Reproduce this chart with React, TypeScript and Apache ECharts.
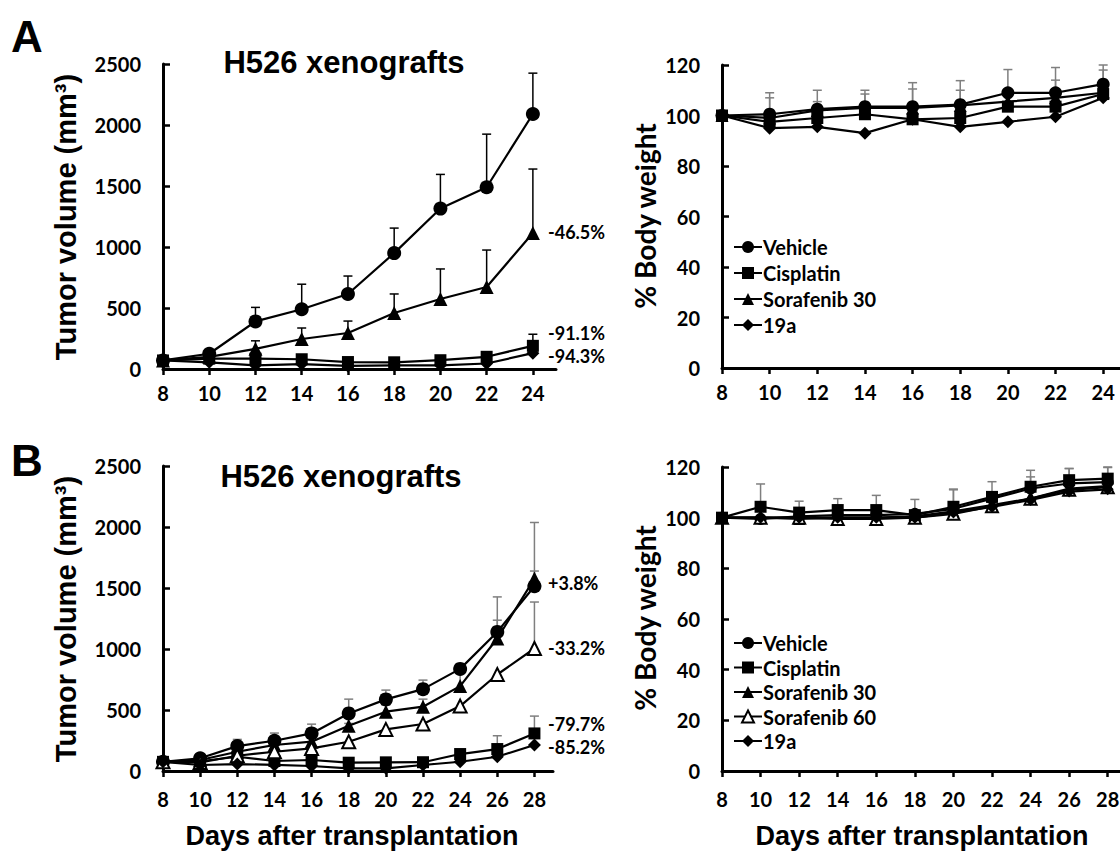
import React, { useEffect, useRef } from 'react';
import * as echarts from 'echarts';

// ---------- data ----------
const daysA = [8, 10, 12, 14, 16, 18, 20, 22, 24];
const daysB = [8, 10, 12, 14, 16, 18, 20, 22, 24, 26, 28];

// Panel A – tumour volume (mm3)
const tvAVehicle = [70, 125, 390, 490, 615, 950, 1315, 1490, 2090];
const tvAVehicleErr = [0, 0, 115, 205, 147, 205, 280, 435, 335];
const tvACisplatin = [70, 85, 85, 80, 57, 55, 72, 100, 190];
const tvACisplatinErr = [0, 0, 0, 0, 0, 0, 0, 0, 95];
const tvASor30 = [70, 100, 165, 246, 295, 459, 574, 672, 1115];
const tvASor30Err = [0, 0, 66, 90, 98, 156, 246, 303, 524];
const tvA19a = [70, 55, 30, 40, 25, 30, 30, 45, 130];

// Panel A – % body weight
const bwAVehicle = [100, 100.5, 102.5, 103.5, 103.5, 104.3, 109, 109, 112.4];
const bwAVehicleErr = [0, 8.5, 7.5, 6.5, 9.5, 9.5, 9.2, 10, 7.6];
const bwACisplatin = [100, 97.5, 99, 100.5, 98.5, 99, 103.5, 103.5, 108.5];
const bwASor30 = [100, 99, 102, 103, 103, 104, 105.5, 107, 109];
const bwASor30Err = [0, 8, 3.5, 5.5, 7.5, 6, 3, 7, 9];
const bwA19a = [100, 95, 95.5, 93, 98.5, 95.5, 97.5, 99.5, 107];

// Panel B – tumour volume (mm3)
const tvBVehicle = [75, 104, 204, 248, 308, 472, 587, 671, 837, 1140, 1514];
const tvBVehicleErr = [0, 0, 55, 63, 76, 117, 76, 74, 22, 96, 125];
const tvBCisplatin = [75, 80, 117, 82, 90, 68, 71, 72, 139, 180, 308];
const tvBCisplatinErr = [0, 0, 0, 0, 0, 0, 0, 0, 0, 109, 142];
const tvBSor30 = [75, 90, 158, 213, 240, 371, 486, 527, 696, 1086, 1577];
const tvBSor30Err = [0, 0, 0, 0, 0, 19, 54, 62, 150, 341, 460];
const tvBSor60 = [75, 70, 125, 158, 185, 240, 341, 385, 532, 791, 1004];
const tvBSor60Err = [0, 0, 0, 0, 0, 0, 0, 0, 0, 0, 381];
const tvB19a = [75, 49, 57, 50, 41, 22, 22, 49, 76, 117, 213];

// Panel B – % body weight
const bwBVehicle = [100, 99.5, 100.5, 101, 101, 101.5, 103.5, 107.5, 111.5, 113.5, 114];
const bwBVehicleErr = [0, 0, 0, 4, 0, 5.7, 7.5, 0, 4.6, 5.9, 5.8];
const bwBCisplatin = [100, 104.3, 102, 103, 103, 101, 104.3, 108.2, 112.2, 114.8, 115.4];
const bwBCisplatinErr = [0, 9, 4.5, 4.5, 5.8, 0, 7, 6, 6.5, 4.6, 4.6];
const bwBSor30 = [100, 100, 99.5, 100, 100, 100.5, 102.5, 105, 107.5, 111.5, 112.5];
const bwBSor60 = [100, 100, 100, 99.5, 99.5, 100, 101.5, 104.5, 107.5, 111, 112];
const bwB19a = [100, 100, 100, 100, 100, 100, 102, 104.2, 107, 110.3, 111.2];

const legendA = ['Vehicle', 'Cisplatin', 'Sorafenib 30', '19a'];
const legendB = ['Vehicle', 'Cisplatin', 'Sorafenib 30', 'Sorafenib 60', '19a'];

const annotA = [
  { text: '-46.5%', y: 232 },
  { text: '-91.1%', y: 333 },
  { text: '-94.3%', y: 356 },
];
const annotB = [
  { text: '+3.8%', y: 583 },
  { text: '-33.2%', y: 648 },
  { text: '-79.7%', y: 724 },
  { text: '-85.2%', y: 747 },
];

// ---------- helpers ----------
const ARIAL = '"Liberation Sans", Arial, sans-serif';
const CAL = 'Lato, "Open Sans", sans-serif';

function line(name: string, days: number[], vals: number[], gi: number, symbol: string, size: number) {
  return {
    type: 'line',
    name,
    xAxisIndex: gi,
    yAxisIndex: gi,
    data: days.map((d, i) => [d, vals[i]]),
    symbol,
    symbolSize: size,
    showAllSymbol: true,
    lineStyle: { color: '#000', width: 2.2 },
    itemStyle: { color: '#000', borderColor: '#000', borderWidth: symbol.startsWith('empty') ? 1.5 : 0 },
    z: 3,
    silent: true,
  };
}

function errs(days: number[], vals: number[], e: number[], gi: number, color: string) {
  return {
    type: 'custom',
    xAxisIndex: gi,
    yAxisIndex: gi,
    silent: true,
    clip: false,
    z: 2,
    encode: { x: 0, y: 1 },
    data: days.map((d, i) => [d, vals[i], e[i]]).filter((r) => r[2] > 0),
    renderItem: (params: any, api: any) => {
      const x = api.value(0);
      const y = api.value(1);
      const ev = api.value(2);
      const p0 = api.coord([x, y]);
      const p1 = api.coord([x, y + ev]);
      return {
        type: 'group',
        children: [
          { type: 'line', shape: { x1: p0[0], y1: p0[1], x2: p1[0], y2: p1[1] }, style: { stroke: color, lineWidth: 1.5 } },
          { type: 'line', shape: { x1: p1[0] - 4.5, y1: p1[1], x2: p1[0] + 4.5, y2: p1[1] }, style: { stroke: color, lineWidth: 1.5 } },
        ],
      };
    },
  };
}

function xAxis(gi: number, max: number, ticks: number[], margin: number) {
  return {
    type: 'value',
    gridIndex: gi,
    min: 8,
    max,
    interval: 2,
    axisLine: { show: true, onZero: false, lineStyle: { color: '#000', width: 3 } },
    axisTick: { show: true, inside: false, length: 6, customValues: ticks, lineStyle: { color: '#000', width: 2.5 } },
    axisLabel: {
      customValues: ticks,
      margin,
      color: '#000',
      fontFamily: CAL,
      fontWeight: 'bold',
      fontSize: 20,
      formatter: (v: number) => (ticks.indexOf(v) >= 0 ? String(v) : ''),
    },
    splitLine: { show: false },
  };
}

function yAxis(gi: number, max: number, interval: number) {
  return {
    type: 'value',
    gridIndex: gi,
    min: 0,
    max,
    interval,
    axisLine: { show: true, onZero: false, lineStyle: { color: '#000', width: 3 } },
    axisTick: { show: true, inside: true, length: 7, lineStyle: { color: '#000', width: 2.5 } },
    axisLabel: {
      margin: 22,
      color: '#000',
      fontFamily: CAL,
      fontWeight: 'bold',
      fontSize: 20,
      formatter: (v: number) => String(v),
    },
    splitLine: { show: false },
  };
}

function txt(text: string, x: number, y: number, font: string, align = 'center', rotation = 0) {
  return {
    type: 'text',
    x,
    y,
    rotation,
    silent: true,
    style: { text, font, fill: '#000', align, verticalAlign: 'middle' },
  };
}

function legend(data: string[], top: number, gap: number) {
  return {
    data,
    orient: 'vertical',
    left: 733,
    top,
    padding: 0,
    itemWidth: 28,
    itemHeight: 15,
    itemGap: gap,
    selectedMode: false,
    textStyle: { color: '#000', fontFamily: CAL, fontWeight: 'bold', fontSize: 20, lineHeight: 20, padding: [0, 0, 0, -4] },
  };
}

const option: any = {
  animation: false,
  backgroundColor: '#fff',
  grid: [
    { left: 163, top: 64, width: 393, height: 305, outerBoundsMode: 'none' },
    { left: 722, top: 65, width: 405, height: 303, outerBoundsMode: 'none' },
    { left: 163, top: 466, width: 390, height: 305, outerBoundsMode: 'none' },
    { left: 722, top: 467, width: 405, height: 304, outerBoundsMode: 'none' },
  ],
  xAxis: [xAxis(0, 25, daysA, 14), xAxis(1, 25, daysA, 14), xAxis(2, 29, daysB, 18), xAxis(3, 29, daysB, 18)],
  yAxis: [yAxis(0, 2500, 500), yAxis(1, 120, 20), yAxis(2, 2500, 500), yAxis(3, 120, 20)],
  legend: [legend(legendA, 237, 6), legend(legendB, 633, 4.5)],
  series: [
    // A tumour
    errs(daysA, tvAVehicle, tvAVehicleErr, 0, '#000'),
    errs(daysA, tvACisplatin, tvACisplatinErr, 0, '#000'),
    errs(daysA, tvASor30, tvASor30Err, 0, '#000'),
    line('Vehicle', daysA, tvAVehicle, 0, 'circle', 14),
    line('Cisplatin', daysA, tvACisplatin, 0, 'rect', 12),
    line('Sorafenib 30', daysA, tvASor30, 0, 'triangle', 14),
    line('19a', daysA, tvA19a, 0, 'diamond', 13),
    // A body weight
    errs(daysA, bwAVehicle, bwAVehicleErr, 1, '#7f7f7f'),
    errs(daysA, bwASor30, bwASor30Err, 1, '#7f7f7f'),
    line('Vehicle', daysA, bwAVehicle, 1, 'circle', 13),
    line('Cisplatin', daysA, bwACisplatin, 1, 'rect', 12),
    line('Sorafenib 30', daysA, bwASor30, 1, 'triangle', 13),
    line('19a', daysA, bwA19a, 1, 'diamond', 13),
    // B tumour
    errs(daysB, tvBVehicle, tvBVehicleErr, 2, '#7f7f7f'),
    errs(daysB, tvBCisplatin, tvBCisplatinErr, 2, '#7f7f7f'),
    errs(daysB, tvBSor30, tvBSor30Err, 2, '#7f7f7f'),
    errs(daysB, tvBSor60, tvBSor60Err, 2, '#7f7f7f'),
    line('Vehicle', daysB, tvBVehicle, 2, 'circle', 14),
    line('Cisplatin', daysB, tvBCisplatin, 2, 'rect', 12),
    line('Sorafenib 30', daysB, tvBSor30, 2, 'triangle', 14),
    line('Sorafenib 60', daysB, tvBSor60, 2, 'emptyTriangle', 13),
    line('19a', daysB, tvB19a, 2, 'diamond', 13),
    // B body weight
    errs(daysB, bwBVehicle, bwBVehicleErr, 3, '#7f7f7f'),
    errs(daysB, bwBCisplatin, bwBCisplatinErr, 3, '#7f7f7f'),
    line('Vehicle', daysB, bwBVehicle, 3, 'circle', 12),
    line('Sorafenib 30', daysB, bwBSor30, 3, 'triangle', 12),
    line('Sorafenib 60', daysB, bwBSor60, 3, 'emptyTriangle', 12),
    line('19a', daysB, bwB19a, 3, 'diamond', 12),
    line('Cisplatin', daysB, bwBCisplatin, 3, 'rect', 12),
  ],
  graphic: [
    txt('A', 27, 36, `bold 44px ${ARIAL}`),
    txt('B', 27, 460, `bold 44px ${ARIAL}`),
    txt('H526 xenografts', 344, 62, `bold 31px ${ARIAL}`),
    txt('H526 xenografts', 341, 476, `bold 31px ${ARIAL}`),
    txt('Tumor volume (mm³)', 66, 217, `bold 29px ${ARIAL}`, 'center', Math.PI / 2),
    txt('Tumor volume (mm³)', 66, 619, `bold 29px ${ARIAL}`, 'center', Math.PI / 2),
    txt('% Body weight', 645, 216, `bold 28px ${CAL}`, 'center', Math.PI / 2),
    txt('% Body weight', 645, 618, `bold 28px ${CAL}`, 'center', Math.PI / 2),
    txt('Days after transplantation', 352, 836, `bold 27px ${ARIAL}`),
    txt('Days after transplantation', 922, 836, `bold 27px ${ARIAL}`),
    ...annotA.map((a) => txt(a.text, 548, a.y, `bold 18px ${CAL}`, 'left')),
    ...annotB.map((a) => txt(a.text, 548, a.y, `bold 18px ${CAL}`, 'left')),
  ],
};

export default function App() {
  const ref = useRef<HTMLDivElement>(null);
  useEffect(() => {
    const chart = echarts.init(ref.current as HTMLDivElement, null, { renderer: 'svg' });
    chart.setOption(option);
    return () => chart.dispose();
  }, []);
  return (
    <div
      ref={ref}
      style={{ position: 'fixed', left: 0, top: 0, width: 1120, height: 859, background: '#fff' }}
    />
  );
}
